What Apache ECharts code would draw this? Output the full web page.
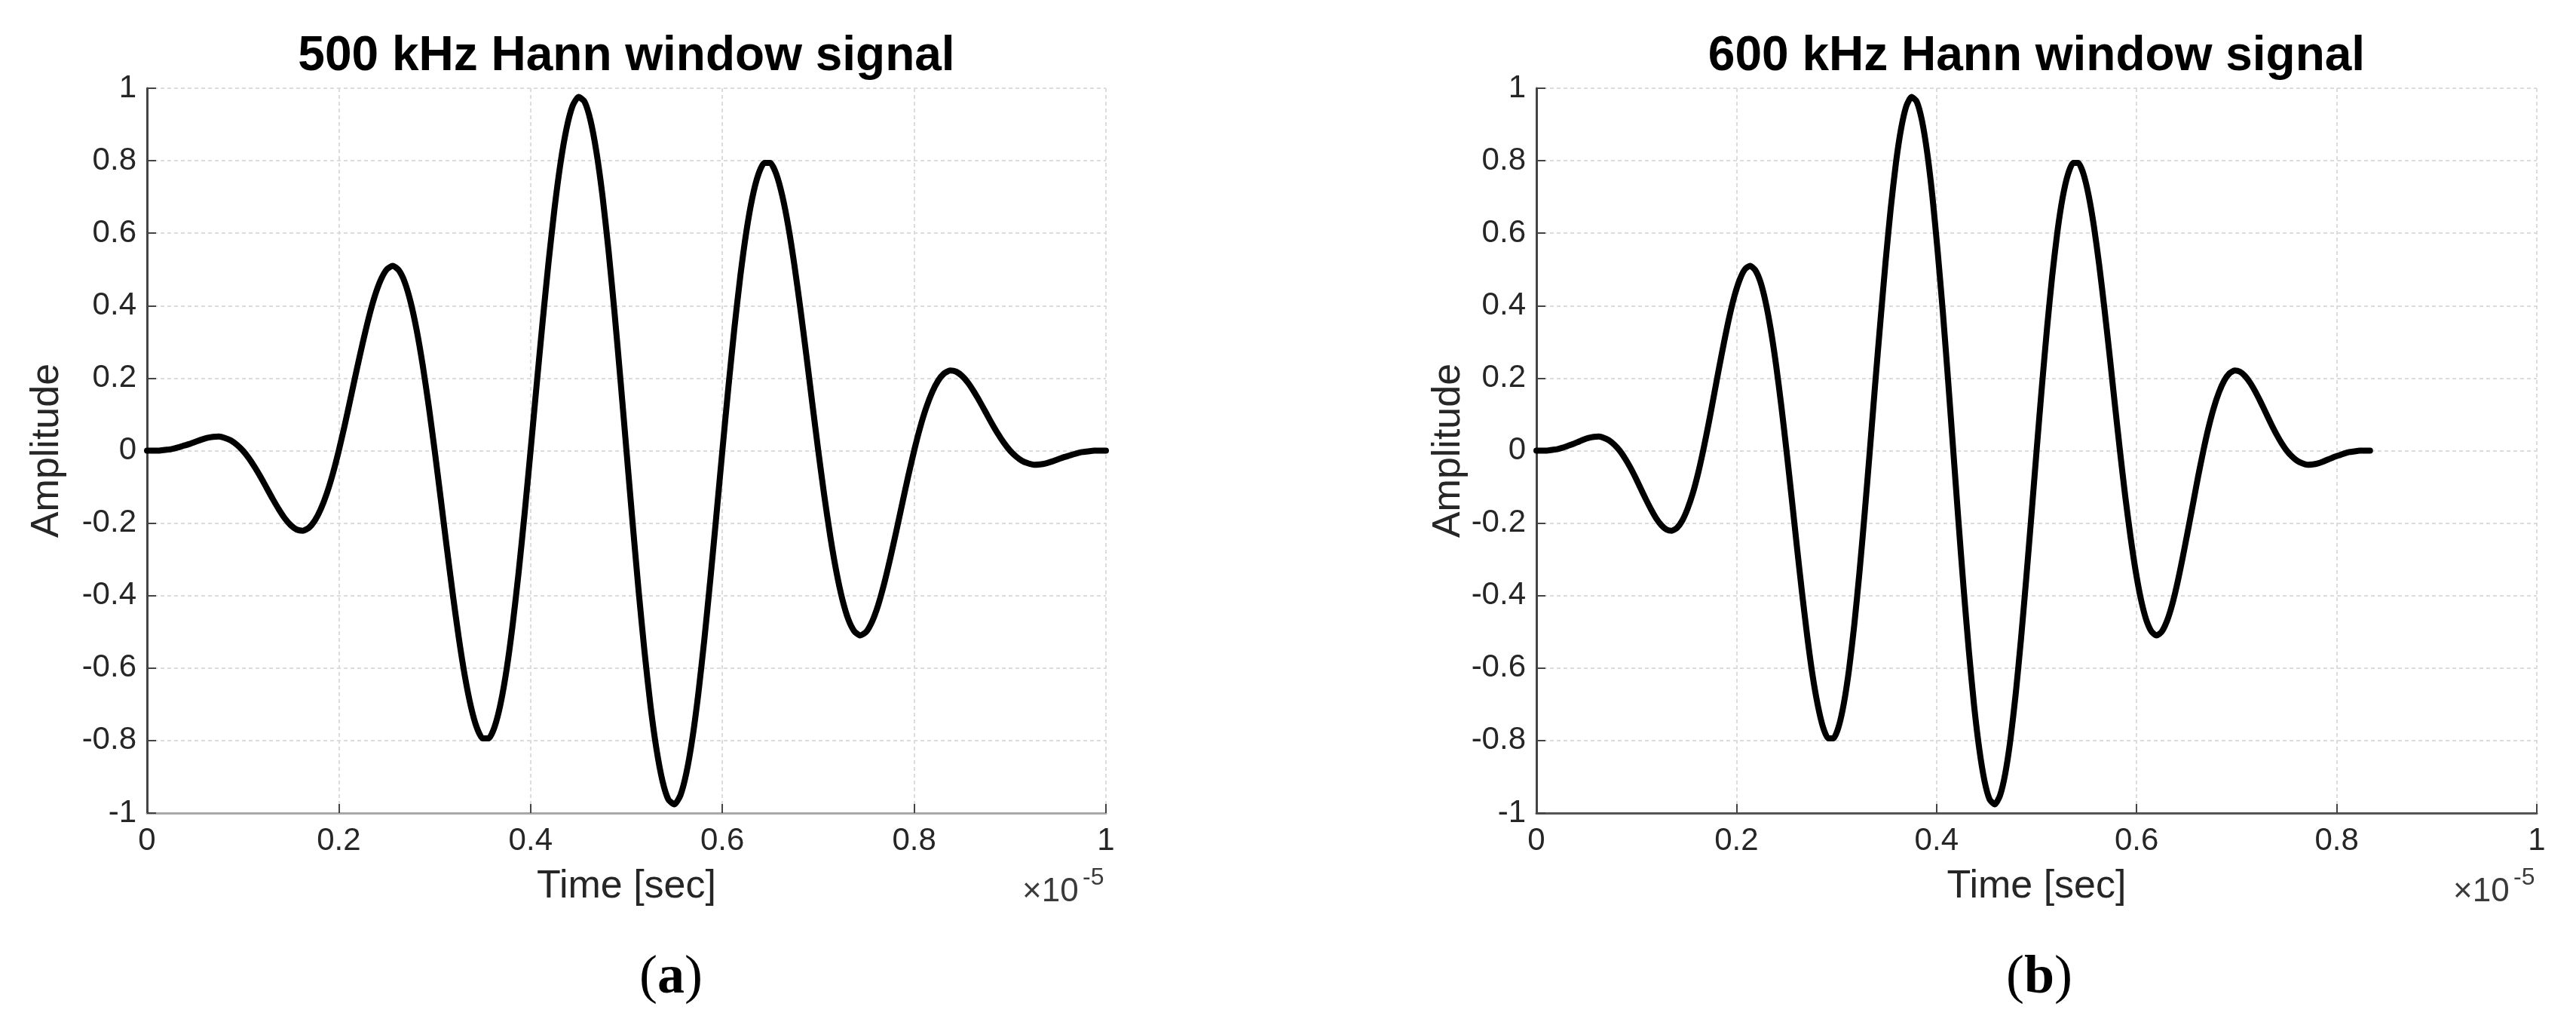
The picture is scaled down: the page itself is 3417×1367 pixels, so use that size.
<!DOCTYPE html>
<html>
<head>
<meta charset="utf-8">
<script src="https://cdn.jsdelivr.net/npm/echarts@6/dist/echarts.min.js"></script>
<style>
html,body{margin:0;padding:0;background:#ffffff;}
#c{width:3417px;height:1367px;}
</style>
</head>
<body>
<div id="c"></div>
<script>
// ---- data ----
const titles = ['500 kHz Hann window signal', '600 kHz Hann window signal'];
const panelLabels = ['a', 'b'];
const xAxisName = 'Time [sec]';
const yAxisName = 'Amplitude';
const xTickLabels = ['0', '0.2', '0.4', '0.6', '0.8', '1'];
const yTickLabels = ['-1', '-0.8', '-0.6', '-0.4', '-0.2', '0', '0.2', '0.4', '0.6', '0.8', '1'];
const xExponent = '-5';

// time in units of 1e-5 s
const time500 = [
  0, 0.00625, 0.0125, 0.01875, 0.025, 0.03125, 0.0375, 0.04375, 0.05, 0.05625, 0.0625, 0.06875, 0.075, 0.08125, 0.0875, 0.09375,
  0.1, 0.10625, 0.1125, 0.11875, 0.125, 0.13125, 0.1375, 0.14375, 0.15, 0.15625, 0.1625, 0.16875, 0.175, 0.18125, 0.1875, 0.19375,
  0.2, 0.20625, 0.2125, 0.21875, 0.225, 0.23125, 0.2375, 0.24375, 0.25, 0.25625, 0.2625, 0.26875, 0.275, 0.28125, 0.2875, 0.29375,
  0.3, 0.30625, 0.3125, 0.31875, 0.325, 0.33125, 0.3375, 0.34375, 0.35, 0.35625, 0.3625, 0.36875, 0.375, 0.38125, 0.3875, 0.39375,
  0.4, 0.40625, 0.4125, 0.41875, 0.425, 0.43125, 0.4375, 0.44375, 0.45, 0.45625, 0.4625, 0.46875, 0.475, 0.48125, 0.4875, 0.49375,
  0.5, 0.50625, 0.5125, 0.51875, 0.525, 0.53125, 0.5375, 0.54375, 0.55, 0.55625, 0.5625, 0.56875, 0.575, 0.58125, 0.5875, 0.59375,
  0.6, 0.60625, 0.6125, 0.61875, 0.625, 0.63125, 0.6375, 0.64375, 0.65, 0.65625, 0.6625, 0.66875, 0.675, 0.68125, 0.6875, 0.69375,
  0.7, 0.70625, 0.7125, 0.71875, 0.725, 0.73125, 0.7375, 0.74375, 0.75, 0.75625, 0.7625, 0.76875, 0.775, 0.78125, 0.7875, 0.79375,
  0.8, 0.80625, 0.8125, 0.81875, 0.825, 0.83125, 0.8375, 0.84375, 0.85, 0.85625, 0.8625, 0.86875, 0.875, 0.88125, 0.8875, 0.89375,
  0.9, 0.90625, 0.9125, 0.91875, 0.925, 0.93125, 0.9375, 0.94375, 0.95, 0.95625, 0.9625, 0.96875, 0.975, 0.98125, 0.9875, 0.99375,
  1];
const amp500 = [
  0, 0, 0, 0.002, 0.004, 0.008, 0.013, 0.018, 0.024, 0.030, 0.035, 0.038, 0.039, 0.035, 0.028, 0.016,
  0, -0.021, -0.046, -0.074, -0.104, -0.134, -0.162, -0.187, -0.206, -0.218, -0.221, -0.213, -0.193, -0.161, -0.118, -0.064,
  0, 0.071, 0.147, 0.224, 0.298, 0.367, 0.426, 0.471, 0.500, 0.510, 0.498, 0.465, 0.409, 0.332, 0.236, 0.124,
  0, -0.131, -0.265, -0.394, -0.514, -0.619, -0.703, -0.763, -0.794, -0.794, -0.762, -0.698, -0.604, -0.482, -0.337, -0.174,
  0, 0.179, 0.354, 0.520, 0.669, 0.794, 0.889, 0.951, 0.976, 0.963, 0.911, 0.823, 0.703, 0.553, 0.382, 0.195,
  0, -0.195, -0.382, -0.553, -0.703, -0.823, -0.911, -0.963, -0.976, -0.951, -0.889, -0.794, -0.669, -0.520, -0.354, -0.179,
  0, 0.174, 0.337, 0.482, 0.604, 0.698, 0.762, 0.794, 0.794, 0.763, 0.703, 0.619, 0.514, 0.394, 0.265, 0.131,
  0, -0.124, -0.236, -0.332, -0.409, -0.465, -0.498, -0.510, -0.500, -0.471, -0.426, -0.367, -0.298, -0.224, -0.147, -0.071,
  0, 0.064, 0.118, 0.161, 0.193, 0.213, 0.221, 0.218, 0.206, 0.187, 0.162, 0.134, 0.104, 0.074, 0.046, 0.021,
  0, -0.016, -0.028, -0.035, -0.039, -0.038, -0.035, -0.030, -0.024, -0.018, -0.013, -0.008, -0.004, -0.002, 0, 0,
  0];

const time600 = [
  0, 0.0052, 0.0104, 0.0156, 0.0208, 0.026, 0.0313, 0.0365, 0.0417, 0.0469, 0.0521, 0.0573, 0.0625, 0.0677, 0.0729, 0.0781,
  0.0833, 0.0885, 0.0938, 0.099, 0.1042, 0.1094, 0.1146, 0.1198, 0.125, 0.1302, 0.1354, 0.1406, 0.1458, 0.151, 0.1563, 0.1615,
  0.1667, 0.1719, 0.1771, 0.1823, 0.1875, 0.1927, 0.1979, 0.2031, 0.2083, 0.2135, 0.2188, 0.224, 0.2292, 0.2344, 0.2396, 0.2448,
  0.25, 0.2552, 0.2604, 0.2656, 0.2708, 0.276, 0.2813, 0.2865, 0.2917, 0.2969, 0.3021, 0.3073, 0.3125, 0.3177, 0.3229, 0.3281,
  0.3333, 0.3385, 0.3438, 0.349, 0.3542, 0.3594, 0.3646, 0.3698, 0.375, 0.3802, 0.3854, 0.3906, 0.3958, 0.401, 0.4063, 0.4115,
  0.4167, 0.4219, 0.4271, 0.4323, 0.4375, 0.4427, 0.4479, 0.4531, 0.4583, 0.4635, 0.4688, 0.474, 0.4792, 0.4844, 0.4896, 0.4948,
  0.5, 0.5052, 0.5104, 0.5156, 0.5208, 0.526, 0.5313, 0.5365, 0.5417, 0.5469, 0.5521, 0.5573, 0.5625, 0.5677, 0.5729, 0.5781,
  0.5833, 0.5885, 0.5938, 0.599, 0.6042, 0.6094, 0.6146, 0.6198, 0.625, 0.6302, 0.6354, 0.6406, 0.6458, 0.651, 0.6563, 0.6615,
  0.6667, 0.6719, 0.6771, 0.6823, 0.6875, 0.6927, 0.6979, 0.7031, 0.7083, 0.7135, 0.7188, 0.724, 0.7292, 0.7344, 0.7396, 0.7448,
  0.75, 0.7552, 0.7604, 0.7656, 0.7708, 0.776, 0.7813, 0.7865, 0.7917, 0.7969, 0.8021, 0.8073, 0.8125, 0.8177, 0.8229, 0.8281,
  0.8333];
const amp600 = [
  0, 0, 0, 0.002, 0.004, 0.008, 0.013, 0.018, 0.024, 0.030, 0.035, 0.038, 0.039, 0.035, 0.028, 0.016,
  0, -0.021, -0.046, -0.074, -0.104, -0.134, -0.162, -0.187, -0.206, -0.218, -0.221, -0.213, -0.193, -0.161, -0.118, -0.064,
  0, 0.071, 0.147, 0.224, 0.298, 0.367, 0.426, 0.471, 0.500, 0.510, 0.498, 0.465, 0.409, 0.332, 0.236, 0.124,
  0, -0.131, -0.265, -0.394, -0.514, -0.619, -0.703, -0.763, -0.794, -0.794, -0.762, -0.698, -0.604, -0.482, -0.337, -0.174,
  0, 0.179, 0.354, 0.520, 0.669, 0.794, 0.889, 0.951, 0.976, 0.963, 0.911, 0.823, 0.703, 0.553, 0.382, 0.195,
  0, -0.195, -0.382, -0.553, -0.703, -0.823, -0.911, -0.963, -0.976, -0.951, -0.889, -0.794, -0.669, -0.520, -0.354, -0.179,
  0, 0.174, 0.337, 0.482, 0.604, 0.698, 0.762, 0.794, 0.794, 0.763, 0.703, 0.619, 0.514, 0.394, 0.265, 0.131,
  0, -0.124, -0.236, -0.332, -0.409, -0.465, -0.498, -0.510, -0.500, -0.471, -0.426, -0.367, -0.298, -0.224, -0.147, -0.071,
  0, 0.064, 0.118, 0.161, 0.193, 0.213, 0.221, 0.218, 0.206, 0.187, 0.162, 0.134, 0.104, 0.074, 0.046, 0.021,
  0, -0.016, -0.028, -0.035, -0.039, -0.038, -0.035, -0.030, -0.024, -0.018, -0.013, -0.008, -0.004, -0.002, 0, 0,
  0];

// ---- layout / style ----
const W = 3417, H = 1367;
const SANS = '"Liberation Sans", Arial, Helvetica, sans-serif';
const SERIF = '"Liberation Serif", "Times New Roman", serif';
const panels = [
  {left: 195, right: 1467, yNameGap: 106, bottomAxisColor: '#a8a8a8', labelX: 890},
  {left: 2038, right: 3365, yNameGap: 86, bottomAxisColor: '#555555', labelX: 2705}
];
const plotTop = 117, plotBottom = 1078;
const textColor = '#262626';
const gridLine = {color: '#dcdcdc', width: 2, type: [5, 4]};

const pairs = (xs, ys) => xs.map((x, i) => [x, ys[i]]);
const seriesData = [pairs(time500, amp500), pairs(time600, amp600)];

const grids = [], xAxes = [], yAxes = [], series = [], graphics = [];
panels.forEach((p, i) => {
  grids.push({left: p.left, top: plotTop, width: p.right - p.left, height: plotBottom - plotTop, containLabel: false});
  xAxes.push({
    type: 'value', gridIndex: i, min: 0, max: 1, interval: 0.2,
    axisLine: {show: true, onZero: false, lineStyle: {color: p.bottomAxisColor, width: 3}},
    axisTick: {show: true, inside: true, length: 12, lineStyle: {color: '#444', width: 2}},
    axisLabel: {fontSize: 42, color: textColor, fontFamily: SANS, margin: 16,
      formatter: v => xTickLabels[Math.round(v / 0.2)]},
    splitLine: {show: true, lineStyle: gridLine},
    name: xAxisName, nameLocation: 'middle', nameGap: 72,
    nameTextStyle: {fontSize: 52, color: textColor, fontFamily: SANS}
  });
  yAxes.push({
    type: 'value', gridIndex: i, min: -1, max: 1, interval: 0.2,
    axisLine: {show: true, onZero: false, lineStyle: {color: '#444', width: 3}},
    axisTick: {show: true, inside: true, length: 12, lineStyle: {color: '#444', width: 2}},
    axisLabel: {fontSize: 42, color: textColor, fontFamily: SANS, margin: 14,
      formatter: v => yTickLabels[Math.round((v + 1) / 0.2)]},
    splitLine: {show: true, lineStyle: gridLine},
    name: yAxisName, nameLocation: 'middle', nameGap: p.yNameGap, nameRotate: 90,
    nameTextStyle: {fontSize: 52, color: textColor, fontFamily: SANS}
  });
  series.push({
    type: 'line', xAxisIndex: i, yAxisIndex: i, data: seriesData[i],
    smooth: 0.2, showSymbol: false, symbol: 'none',
    lineStyle: {color: '#000', width: 8, join: 'round', cap: 'round'}, animation: false
  });
  const cx = (p.left + p.right) / 2;
  graphics.push({
    type: 'text', x: cx, y: 75,
    style: {text: titles[i], font: 'bold 64px ' + SANS, fill: '#000', textAlign: 'center', textVerticalAlign: 'middle'}
  });
  graphics.push({
    type: 'text', x: p.right - 111, y: 1183,
    style: {text: '\u00d710', font: '44px ' + SANS, fill: '#3a3a3a', textAlign: 'left', textVerticalAlign: 'middle'}
  });
  graphics.push({
    type: 'text', x: p.right - 31, y: 1164,
    style: {text: xExponent, font: '32px ' + SANS, fill: '#3a3a3a', textAlign: 'left', textVerticalAlign: 'middle'}
  });
  graphics.push({
    type: 'text', x: p.labelX, y: 1297,
    style: {text: '({b|' + panelLabels[i] + '})', rich: {b: {font: 'bold 72px ' + SERIF, fill: '#000'}},
      font: '72px ' + SERIF, fill: '#000', textAlign: 'center', textVerticalAlign: 'middle'}
  });
});

const chart = echarts.init(document.getElementById('c'), null, {renderer: 'canvas', width: W, height: H});
chart.setOption({
  backgroundColor: '#ffffff',
  animation: false,
  grid: grids,
  xAxis: xAxes,
  yAxis: yAxes,
  series: series,
  graphic: graphics
});
</script>
</body>
</html>
